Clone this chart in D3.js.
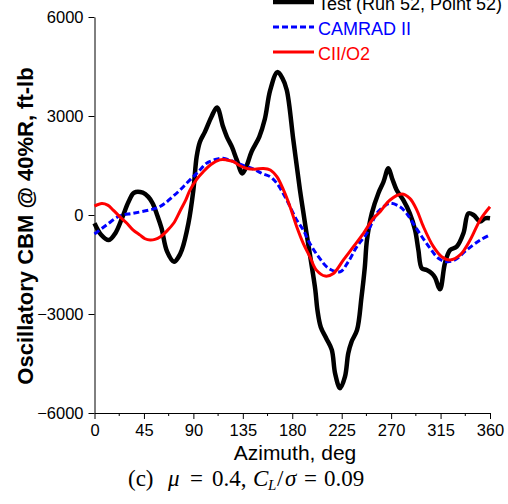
<!DOCTYPE html>
<html>
<head>
<meta charset="utf-8">
<script src="https://cdn.jsdelivr.net/npm/d3@7"></script>
<style>
  html, body { margin: 0; padding: 0; background: #fff; }
  svg { display: block; }
</style>
</head>
<body>
<svg id="chart" width="508" height="504"></svg>
<script>
// ---- data (azimuth deg, oscillatory CBM ft-lb) ----
const seriesNames = ["Test (Run 52, Point 52)", "CAMRAD II", "CII/O2"];
const testData = [
  [0,-250],[6,-600],[13,-760],[19,-550],[25,-100],[31,400],[36,675],[44,675],[49,550],[53,350],
  [57,0],[61,-400],[66,-1100],[72.5,-1420],[76,-1300],[79.5,-1060],[85.5,-250],[90,760],[93,1770],
  [96,2220],[100.5,2520],[106.5,2980],[111.5,3260],[117,2680],[120.5,2370],[125,2070],[129.5,1670],
  [134.5,1260],[138,1450],[143,1920],[150,2370],[155,2900],[160,3790],[166.5,4330],[171,4150],
  [175,3790],[181,2270],[187,760],[190,100],[193,-555],[198,-1600],[201,-2270],[203,-2900],
  [206,-3400],[211,-3740],[216,-4090],[219,-4800],[223.5,-5250],[228,-4900],[231,-4190],[234,-3840],
  [239,-3480],[243,-2500],[246,-1600],[248,-760],[252.4,50],[258.4,660],[263,1000],[267.5,1415],
  [271,1100],[275,760],[281,455],[287,50],[291.8,-455],[294.8,-1060],[297.9,-1615],[302.4,-1670],
  [307,-1770],[310,-1900],[314.5,-2250],[319,-1460],[323.7,-1060],[329.7,-960],[335.8,-555],
  [340.3,50],[345,0],[351,-200],[355.5,-100],[360,-100]
];
const camradData = [
  [0,-575],[11,-300],[23,-30],[35,50],[50,150],[58,230],[64,350],[71,550],[78,760],[85,1000],
  [91.5,1210],[97,1400],[102,1570],[110,1680],[117,1720],[124,1650],[130,1570],[137,1480],
  [145,1390],[153,1250],[160,1160],[166,960],[175,455],[184,-150],[190,-455],[196,-860],
  [203.8,-1260],[213,-1615],[223.6,-1720],[231,-1415],[238.8,-960],[247.9,-555],[257,50],
  [263,250],[269,355],[278,250],[284,50],[290,-250],[298,-660],[305.5,-1010],[313,-1310],
  [320.6,-1415],[328,-1364],[338.8,-1060],[351,-760],[360,-600]
];
const ciio2Data = [
  [0,270],[6.7,350],[12,300],[17,150],[23,-50],[29.5,-250],[35,-450],[41.5,-610],[46,-720],
  [50.7,-760],[55,-740],[60,-660],[66,-480],[72,-250],[78,130],[83,450],[87,760],[93,1080],
  [99,1310],[106,1530],[114,1670],[120,1670],[126.5,1620],[132,1500],[138.7,1410],[146,1390],
  [153.8,1410],[160,1364],[166,1160],[172,760],[178,250],[184,-350],[190,-860],[196,-1260],
  [202,-1670],[210,-1850],[217.5,-1770],[226.6,-1360],[235.7,-960],[244.8,-555],[253.9,-100],
  [260,100],[269,455],[279.7,636],[287,505],[293.4,150],[299.4,-355],[308.5,-960],[316,-1264],
  [323.7,-1364],[332.8,-1210],[341.9,-760],[351,-150],[360,250]
];
const xTicks = [0,45,90,135,180,225,270,315,360];
const xMinorTicks = [22.5,67.5,112.5,157.5,202.5,247.5,292.5,337.5];
const yTicks = [-6000,-3000,0,3000,6000];
const xTitle = "Azimuth, deg";
const yTitle = "Oscillatory CBM @ 40%R, ft-lb";
const captionParts = [
  {t:"(c)", italic:false, sub:false, x:128},
  {t:"\u03bc", italic:true, sub:false, x:168},
  {t:"=", italic:false, sub:false, x:190},
  {t:"0.4,", italic:false, sub:false, x:212},
  {t:"C", italic:true, sub:false, x:253},
  {t:"L", italic:true, sub:true, x:268},
  {t:"/", italic:false, sub:false, x:277},
  {t:"\u03c3", italic:true, sub:false, x:285},
  {t:"=", italic:false, sub:false, x:304},
  {t:"0.09", italic:false, sub:false, x:324}
];

// ---- drawing ----
const svg = d3.select("#chart");
const x = d3.scaleLinear().domain([0,360]).range([94.5,490]);
const y = d3.scaleLinear().domain([-6000,6000]).range([413,17]);

const axisFont = "'Liberation Sans', Arial, sans-serif";

// x axis
const gx = svg.append("g").attr("transform","translate(0,413)");
gx.call(d3.axisBottom(x).tickValues(xTicks).tickSize(6).tickSizeOuter(0).tickPadding(5));
gx.append("g").selectAll("line").data(xMinorTicks).join("line")
  .attr("x1",d=>x(d)).attr("x2",d=>x(d)).attr("y1",0).attr("y2",3)
  .attr("stroke","#000");
gx.selectAll("text").attr("font-family",axisFont).attr("font-size","16.5px").attr("fill","#000");
gx.selectAll("path,line").attr("stroke","#000");

// y axis
const gy = svg.append("g").attr("transform","translate(94.5,0)");
gy.call(d3.axisLeft(y).tickValues(yTicks).tickFormat(d3.format("d")).tickSize(6).tickSizeOuter(0).tickPadding(5));
gy.selectAll("text").attr("font-family",axisFont).attr("font-size","16.5px").attr("fill","#000");
gy.selectAll("path,line").attr("stroke","#000");

// titles
svg.append("text").attr("x",295).attr("y",460).attr("text-anchor","middle")
  .attr("font-family",axisFont).attr("font-size","21px").text(xTitle);
svg.append("text").attr("transform","translate(33,226) rotate(-90)").attr("text-anchor","middle")
  .attr("font-family",axisFont).attr("font-size","22px").attr("font-weight","bold").text(yTitle);

// lines
const line = d3.line().x(d=>x(d[0])).y(d=>y(d[1])).curve(d3.curveCatmullRom.alpha(0.5));
svg.append("path").datum(testData).attr("d",line).attr("fill","none")
  .attr("stroke","#000").attr("stroke-width",4.5).attr("stroke-linejoin","round");
svg.append("path").datum(camradData).attr("d",line).attr("fill","none")
  .attr("stroke","#0000ff").attr("stroke-width",3).attr("stroke-dasharray","6,3");
svg.append("path").datum(ciio2Data).attr("d",line).attr("fill","none")
  .attr("stroke","#ff0000").attr("stroke-width",3);

// legend
const legend = [
  {name: seriesNames[0], color:"#000", width:4.5, dash:null, text:"#000"},
  {name: seriesNames[1], color:"#0000ff", width:3, dash:"6,3", text:"#0000ff"},
  {name: seriesNames[2], color:"#ff0000", width:3, dash:null, text:"#ff0000"}
];
const lg = svg.append("g");
legend.forEach((d,i)=>{
  const cy = 2 + i*25;
  lg.append("line").attr("x1",273).attr("x2",314).attr("y1",cy).attr("y2",cy)
    .attr("stroke",d.color).attr("stroke-width",d.width).attr("stroke-dasharray",d.dash);
  lg.append("text").attr("x",318).attr("y",cy+8).attr("font-family",axisFont)
    .attr("font-size","18px").attr("fill",d.text).text(d.name);
});

// caption
const cap = svg.append("text").attr("y",486)
  .attr("font-family","'Liberation Serif', 'Times New Roman', serif").attr("font-size","23px");
captionParts.forEach(p=>{
  cap.append("tspan").attr("x",p.x).attr("y",p.sub?490:486)
    .attr("font-style",p.italic?"italic":null)
    .attr("font-size",p.sub?"15px":null)
    .text(p.t);
});
</script>
</body>
</html>
